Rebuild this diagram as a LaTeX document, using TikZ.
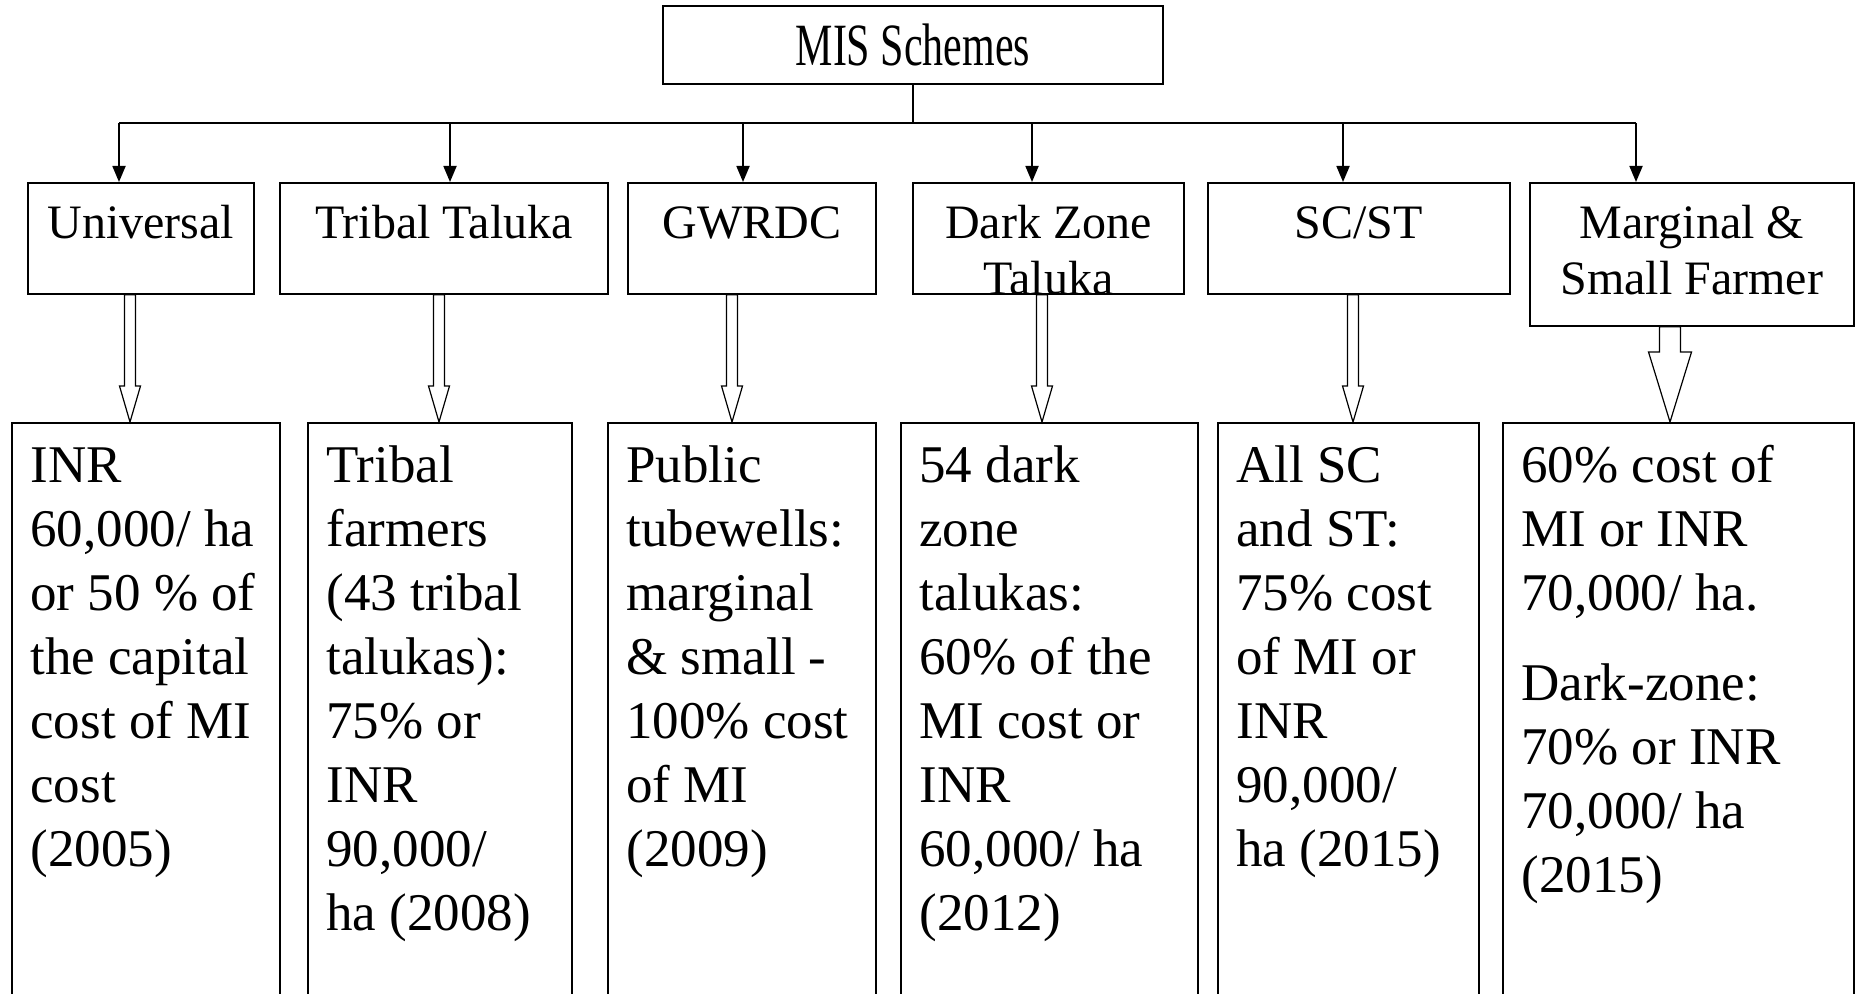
\documentclass[tikz,border=0pt]{standalone}
\usepackage{fontspec}
\setmainfont{Liberation Serif}
\newfontfamily\tallfont[FakeStretch=0.7]{Liberation Serif}
\usetikzlibrary{arrows.meta,positioning,calc}

\begin{document}
\begin{tikzpicture}[x=0.5pt, y=-0.5pt, >={Triangle[length=8pt,width=6.5pt]},
  every node/.style={inner sep=0pt},
  box/.style={draw, line width=0.9pt, rectangle, anchor=north west},
  headtext/.style={align=center, font=\fontsize{24}{28}\selectfont},
  infotext/.style={align=left, font=\fontsize{26.5}{32}\selectfont},
  hollow/.style={draw, fill=white, line width=0.6pt, line join=miter}]
\useasboundingbox (0,0) rectangle (1855,994);

% top box
\node[box, minimum width=250pt, minimum height=39pt, text height=20.5pt, text depth=0pt,
  font=\tallfont\fontsize{30}{34}\selectfont] (mis) at (662,5) {MIS Schemes};

% scheme boxes
\node[box, minimum width=113pt, minimum height=55.5pt] (uni) at (27,182) {};
\node[box, minimum width=164pt, minimum height=55.5pt] (tribal) at (279,182) {};
\node[box, minimum width=124pt, minimum height=55.5pt] (gwrdc) at (627,182) {};
\node[box, minimum width=135.5pt, minimum height=55.5pt] (dark) at (912,182) {};
\node[box, minimum width=151pt, minimum height=55.5pt] (scst) at (1207,182) {};
\node[box, minimum width=162pt, minimum height=71.5pt] (marg) at (1529,182) {};

% subsidy boxes
\node[box, minimum width=134pt, minimum height=291pt] (d1) at (11,422) {};
\node[box, minimum width=132pt, minimum height=291pt] (d2) at (307,422) {};
\node[box, minimum width=134pt, minimum height=291pt] (d3) at (607,422) {};
\node[box, minimum width=148.5pt, minimum height=291pt] (d4) at (900,422) {};
\node[box, minimum width=130.5pt, minimum height=291pt] (d5) at (1217,422) {};
\node[box, minimum width=175.5pt, minimum height=291pt] (d6) at (1502,422) {};

% tree
\coordinate (bar) at (mis.south |- 0,123);
\draw[line width=0.9pt] (mis.south) -- (bar);
\draw[line width=0.9pt] (119,0 |- bar) -- (1636,0 |- bar);
\foreach \b/\x in {uni/119, tribal/450, gwrdc/743, dark/1032, scst/1343, marg/1636}
  \draw[->, line width=0.9pt] (\x,0 |- bar) -- (\x,0 |- \b.north);

% block arrows
\foreach \src/\dst/\x/\sw/\hw/\hl in {uni/d1/130/5.5/10.5/36, tribal/d2/439/5.5/10.5/36,
    gwrdc/d3/732/5.5/10.5/36, dark/d4/1042/5.5/10.5/36, scst/d5/1353/5.5/10.5/36,
    marg/d6/1670/10.5/21.5/70}
  \draw[hollow] (\x-\sw,0 |- \src.south) -- ($(\x-\sw,0 |- \dst.north)+(0,-\hl)$)
    -- ++(\sw-\hw,0) -- (\x,0 |- \dst.north) -- ($(\x+\hw,0 |- \dst.north)+(0,-\hl)$)
    -- ++(\sw-\hw,0) -- (\x+\sw,0 |- \src.south) -- cycle;

% labels
\node[headtext, below=8.5pt of uni.north] (uniT) {\strut Universal};
\node[headtext, below=8.5pt of tribal.north] (tribalT) {\strut Tribal Taluka};
\node[headtext, below=8.5pt of gwrdc.north] (gwrdcT) {\strut GWRDC};
\node[headtext, below=8.5pt of dark.north] (darkT) {\strut Dark Zone\\Taluka};
\node[headtext, below=8.5pt of scst.north] (scstT) {\strut SC/ST};
\node[headtext, below=8.5pt of marg.north] (margT) {\strut Marginal \&\\Small Farmer};

\node[infotext, below right=7.6pt and 9.5pt of d1.north west] (d1T)
  {\strut INR\\60,000/ ha\\or 50 \% of\\the capital\\cost of MI\\cost\\(2005)};
\node[infotext, below right=7.6pt and 9.5pt of d2.north west] (d2T)
  {\strut Tribal\\farmers\\(43 tribal\\talukas):\\75\% or\\INR\\90,000/\\ha (2008)};
\node[infotext, below right=7.6pt and 9.5pt of d3.north west] (d3T)
  {\strut Public\\tubewells:\\marginal\\\& small -\\100\% cost\\of MI\\(2009)};
\node[infotext, below right=7.6pt and 9.5pt of d4.north west] (d4T)
  {\strut 54 dark\\zone\\talukas:\\60\% of the\\MI cost or\\INR\\60,000/ ha\\(2012)};
\node[infotext, below right=7.6pt and 9.5pt of d5.north west] (d5T)
  {\strut All SC\\and ST:\\75\% cost\\of MI or\\INR\\90,000/\\ha (2015)};
\node[infotext, below right=7.6pt and 9.5pt of d6.north west] (d6T)
  {\strut 60\% cost of\\MI or INR\\70,000/ ha.\\[13pt]Dark-zone:\\70\% or INR\\70,000/ ha\\(2015)};
\end{tikzpicture}
\end{document}
